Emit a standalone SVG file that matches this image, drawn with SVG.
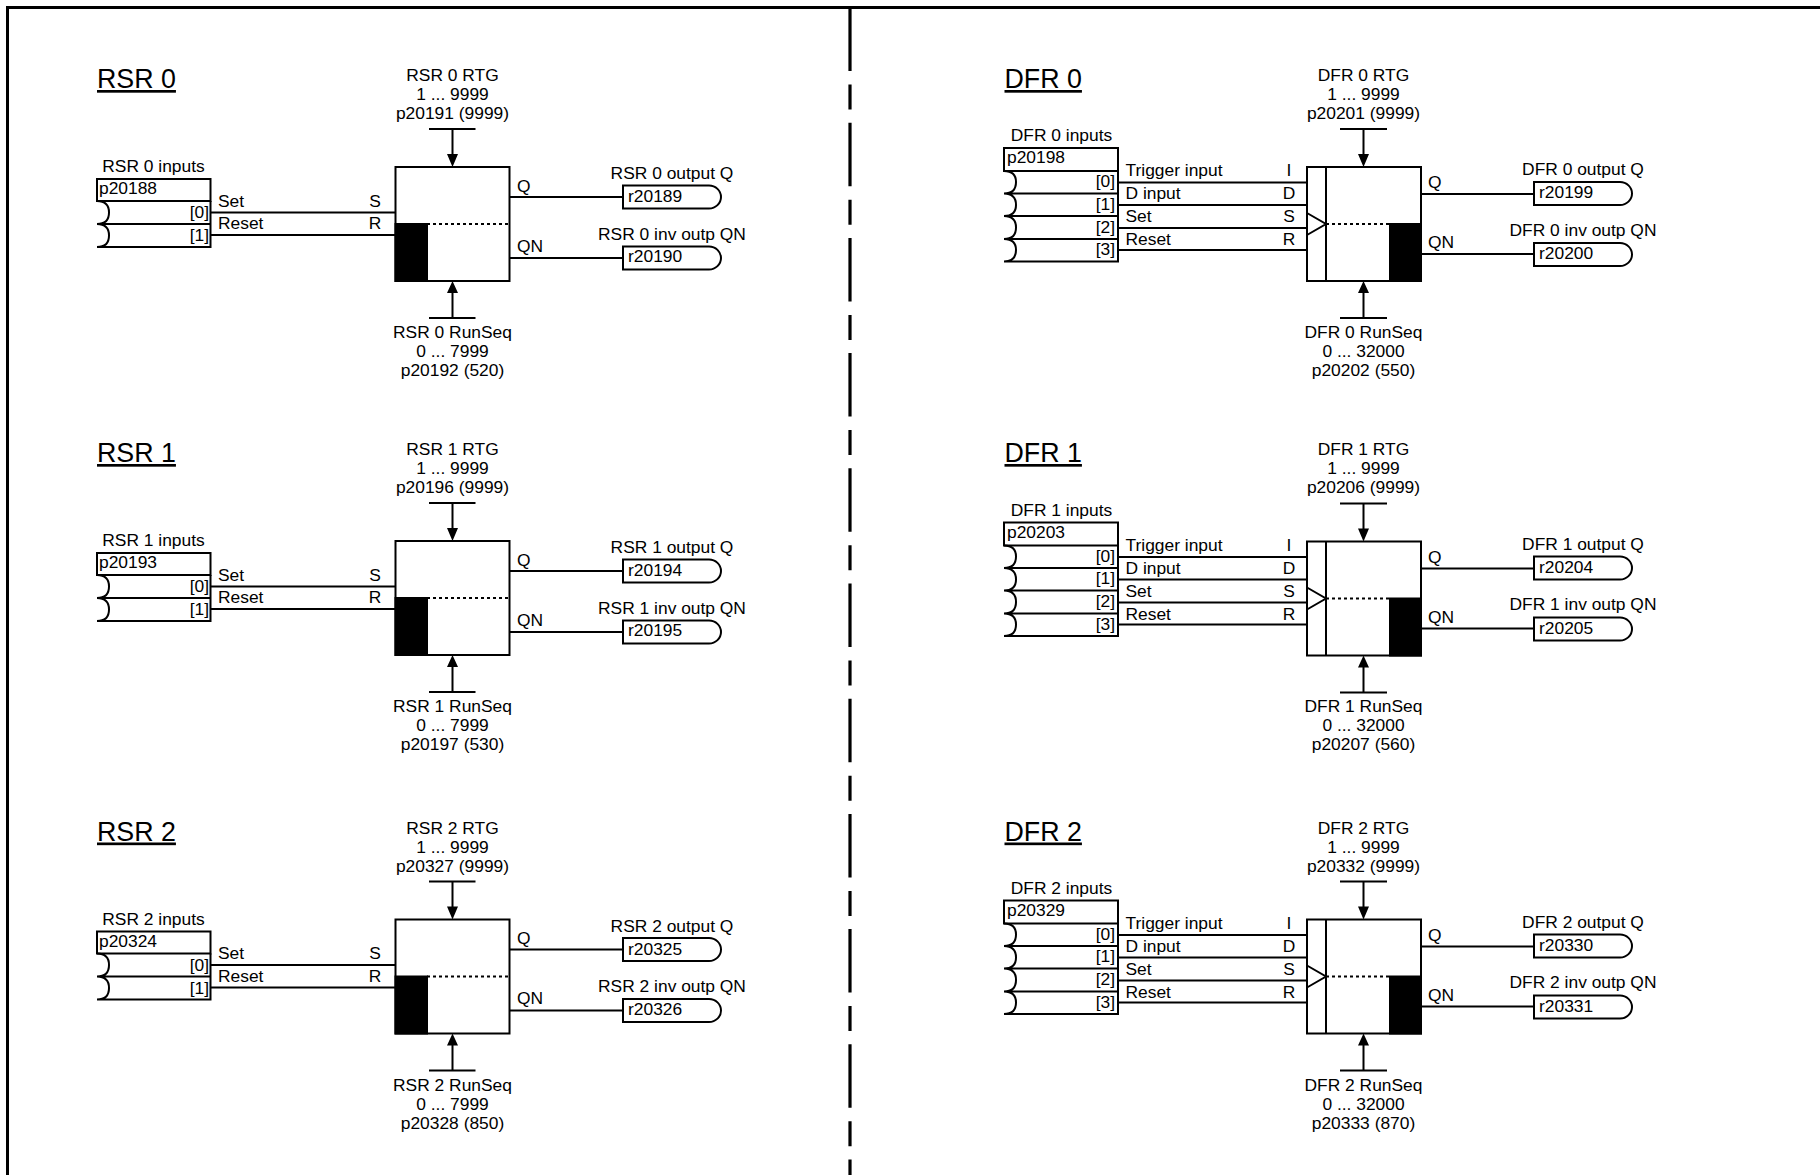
<svg xmlns="http://www.w3.org/2000/svg" width="1820" height="1175" viewBox="0 0 1820 1175">
<style>
text{font-family:"Liberation Sans",Arial,sans-serif;font-size:17.4px;fill:#000}
.m{text-anchor:middle}.e{text-anchor:end}
.t{font-size:26.8px;text-decoration:underline}
.l{fill:none;stroke:#000;stroke-width:2}
.b{fill:#fff;stroke:#000;stroke-width:2}
.k{fill:#000;stroke:#000;stroke-width:2}
.d{fill:none;stroke:#000;stroke-width:2;stroke-dasharray:3 3}
.a{fill:#000}
</style>
<defs>
<g id="rbox">
<rect class="b" x="395.500" y="167" width="114" height="114"/>
<rect class="k" x="395.500" y="224" width="31.500" height="57"/>
<path class="d" d="M427 224H509"/>
</g>
<g id="dbox">
<rect class="b" x="1307" y="167" width="114" height="114"/>
<path class="l" d="M1326 167V281M1307 213L1326 224L1307 235"/>
<rect class="k" x="1390" y="224" width="31" height="57"/>
<path class="d" d="M1326 224H1390"/>
</g>
<g id="rin">
<path class="b" d="M97 179H210.500V201H97Z"/>
<path class="l" d="M97 201Q109 201 109 212.500Q109 224 97 224Q109 224 109 235.500Q109 247 97 247H210.500V201M97 224H210.500"/>
</g>
<g id="din">
<path class="b" d="M1004 148H1118V171H1004Z"/>
<path class="l" d="M1004 171Q1016 171 1016 182Q1016 193.500 1004 193.500Q1016 193.500 1016 205Q1016 216 1004 216Q1016 216 1016 227.500Q1016 239 1004 239Q1016 239 1016 250Q1016 261.500 1004 261.500H1118V171M1004 193.500H1118M1004 216H1118M1004 239H1118"/>
</g>
<path id="out" class="b" d="M0 0H86A12 11.500 0 0 1 86 23H0Z"/>
<g id="rarrows">
<path class="l" d="M429 129H475.500M452.500 129V156M429 318H475.500M452.500 318V292"/>
<path class="a" d="M452.500 167L447 154H458ZM452.500 281L447 293H458Z"/>
</g>
<g id="darrows">
<path class="l" d="M1340 129H1387M1363.500 129V156M1340 318H1387M1363.500 318V292"/>
<path class="a" d="M1363.500 167L1358 154H1369ZM1363.500 281L1358 293H1369Z"/>
</g>
</defs>
<g id="frame"><path class="l" style="stroke-width:3" d="M7.500 1175V7.500H1820"/>
<path class="l" style="stroke-width:3.200;stroke-dasharray:63.500 13.500 25 13.200" d="M850 7.500V1175"/></g>

<g id="connectors">
<g id="c-r0"><use href="#rarrows"/><path class="l" d="M210 212.500H395M210 235H395M509 197H623M509 258H623"/></g>
<g id="c-r1" transform="translate(0,374)"><use href="#rarrows"/><path class="l" d="M210 212.500H395M210 235H395M509 197H623M509 258H623"/></g>
<g id="c-r2" transform="translate(0,752.500)"><use href="#rarrows"/><path class="l" d="M210 212.500H395M210 235H395M509 197H623M509 258H623"/></g>
<g id="c-d0"><use href="#darrows"/><path class="l" d="M1118 182.500H1307M1118 205H1307M1118 228H1307M1118 250H1307M1421 194H1534M1421 254H1534"/></g>
<g id="c-d1" transform="translate(0,374.500)"><use href="#darrows"/><path class="l" d="M1118 182.500H1307M1118 205H1307M1118 228H1307M1118 250H1307M1421 194H1534M1421 254H1534"/></g>
<g id="c-d2" transform="translate(0,752.500)"><use href="#darrows"/><path class="l" d="M1118 182.500H1307M1118 205H1307M1118 228H1307M1118 250H1307M1421 194H1534M1421 254H1534"/></g>
</g>

<g id="rsr0">
<use href="#rbox"/><use href="#rin"/><use href="#out" x="623" y="185.500"/><use href="#out" x="623" y="246.500"/>
<text class="t" x="97" y="88">RSR 0</text>
<text class="m" x="452.500" y="81">RSR 0 RTG</text><text class="m" x="452.500" y="100">1 ... 9999</text><text class="m" x="452.500" y="119">p20191 (9999)</text>
<text class="m" x="452.500" y="338">RSR 0 RunSeq</text><text class="m" x="452.500" y="357">0 ... 7999</text><text class="m" x="452.500" y="376">p20192 (520)</text>
<text class="m" x="153.500" y="172">RSR 0 inputs</text><text x="99" y="194">p20188</text>
<text class="e" x="209" y="218">[0]</text><text class="e" x="209" y="241">[1]</text>
<text x="218" y="206.500">Set</text><text x="218" y="229">Reset</text><text class="m" x="375" y="206.500">S</text><text class="m" x="375" y="229">R</text>
<text x="517" y="191.500">Q</text><text x="517" y="251.500">QN</text>
<text class="m" x="672" y="179">RSR 0 output Q</text><text x="628" y="202">r20189</text>
<text class="m" x="672" y="239.500">RSR 0 inv outp QN</text><text x="628" y="262">r20190</text>
</g>

<g id="rsr1" transform="translate(0,374)">
<use href="#rbox"/><use href="#rin"/><use href="#out" x="623" y="185.500"/><use href="#out" x="623" y="246.500"/>
<text class="t" x="97" y="88">RSR 1</text>
<text class="m" x="452.500" y="81">RSR 1 RTG</text><text class="m" x="452.500" y="100">1 ... 9999</text><text class="m" x="452.500" y="119">p20196 (9999)</text>
<text class="m" x="452.500" y="338">RSR 1 RunSeq</text><text class="m" x="452.500" y="357">0 ... 7999</text><text class="m" x="452.500" y="376">p20197 (530)</text>
<text class="m" x="153.500" y="172">RSR 1 inputs</text><text x="99" y="194">p20193</text>
<text class="e" x="209" y="218">[0]</text><text class="e" x="209" y="241">[1]</text>
<text x="218" y="206.500">Set</text><text x="218" y="229">Reset</text><text class="m" x="375" y="206.500">S</text><text class="m" x="375" y="229">R</text>
<text x="517" y="191.500">Q</text><text x="517" y="251.500">QN</text>
<text class="m" x="672" y="179">RSR 1 output Q</text><text x="628" y="202">r20194</text>
<text class="m" x="672" y="239.500">RSR 1 inv outp QN</text><text x="628" y="262">r20195</text>
</g>

<g id="rsr2" transform="translate(0,752.500)">
<use href="#rbox"/><use href="#rin"/><use href="#out" x="623" y="185.500"/><use href="#out" x="623" y="246.500"/>
<text class="t" x="97" y="88">RSR 2</text>
<text class="m" x="452.500" y="81.500">RSR 2 RTG</text><text class="m" x="452.500" y="100.500">1 ... 9999</text><text class="m" x="452.500" y="119.500">p20327 (9999)</text>
<text class="m" x="452.500" y="338.500">RSR 2 RunSeq</text><text class="m" x="452.500" y="357.500">0 ... 7999</text><text class="m" x="452.500" y="376.500">p20328 (850)</text>
<text class="m" x="153.500" y="172">RSR 2 inputs</text><text x="99" y="194">p20324</text>
<text class="e" x="209" y="218">[0]</text><text class="e" x="209" y="241">[1]</text>
<text x="218" y="206.500">Set</text><text x="218" y="229">Reset</text><text class="m" x="375" y="206.500">S</text><text class="m" x="375" y="229">R</text>
<text x="517" y="191.500">Q</text><text x="517" y="251.500">QN</text>
<text class="m" x="672" y="179">RSR 2 output Q</text><text x="628" y="202">r20325</text>
<text class="m" x="672" y="239.500">RSR 2 inv outp QN</text><text x="628" y="262">r20326</text>
</g>

<g id="dfr0">
<use href="#dbox"/><use href="#din"/><use href="#out" x="1534" y="182"/><use href="#out" x="1534" y="243"/>
<text class="t" x="1004.500" y="88">DFR 0</text>
<text class="m" x="1363.500" y="81">DFR 0 RTG</text><text class="m" x="1363.500" y="100">1 ... 9999</text><text class="m" x="1363.500" y="119">p20201 (9999)</text>
<text class="m" x="1363.500" y="338">DFR 0 RunSeq</text><text class="m" x="1363.500" y="357">0 ... 32000</text><text class="m" x="1363.500" y="376">p20202 (550)</text>
<text class="m" x="1061.500" y="141">DFR 0 inputs</text><text x="1007" y="163">p20198</text>
<text class="e" x="1115" y="187">[0]</text><text class="e" x="1115" y="209.500">[1]</text><text class="e" x="1115" y="232.500">[2]</text><text class="e" x="1115" y="255">[3]</text>
<text x="1125.500" y="176">Trigger input</text><text x="1125.500" y="199">D input</text><text x="1125.500" y="222">Set</text><text x="1125.500" y="245">Reset</text>
<text class="m" x="1289" y="176">I</text><text class="m" x="1289" y="199">D</text><text class="m" x="1289" y="222">S</text><text class="m" x="1289" y="245">R</text>
<text x="1428" y="188">Q</text><text x="1428" y="248">QN</text>
<text class="m" x="1583" y="175">DFR 0 output Q</text><text x="1539" y="198">r20199</text>
<text class="m" x="1583" y="235.500">DFR 0 inv outp QN</text><text x="1539" y="259">r20200</text>
</g>

<g id="dfr1" transform="translate(0,374.500)">
<use href="#dbox"/><use href="#din"/><use href="#out" x="1534" y="182"/><use href="#out" x="1534" y="243"/>
<text class="t" x="1004.500" y="87.500">DFR 1</text>
<text class="m" x="1363.500" y="80.500">DFR 1 RTG</text><text class="m" x="1363.500" y="99.500">1 ... 9999</text><text class="m" x="1363.500" y="118.500">p20206 (9999)</text>
<text class="m" x="1363.500" y="337.500">DFR 1 RunSeq</text><text class="m" x="1363.500" y="356.500">0 ... 32000</text><text class="m" x="1363.500" y="375.500">p20207 (560)</text>
<text class="m" x="1061.500" y="141.500">DFR 1 inputs</text><text x="1007" y="163.500">p20203</text>
<text class="e" x="1115" y="187">[0]</text><text class="e" x="1115" y="209.500">[1]</text><text class="e" x="1115" y="232.500">[2]</text><text class="e" x="1115" y="255">[3]</text>
<text x="1125.500" y="176">Trigger input</text><text x="1125.500" y="199">D input</text><text x="1125.500" y="222">Set</text><text x="1125.500" y="245">Reset</text>
<text class="m" x="1289" y="176">I</text><text class="m" x="1289" y="199">D</text><text class="m" x="1289" y="222">S</text><text class="m" x="1289" y="245">R</text>
<text x="1428" y="188">Q</text><text x="1428" y="248">QN</text>
<text class="m" x="1583" y="175">DFR 1 output Q</text><text x="1539" y="198">r20204</text>
<text class="m" x="1583" y="235.500">DFR 1 inv outp QN</text><text x="1539" y="259">r20205</text>
</g>

<g id="dfr2" transform="translate(0,752.500)">
<use href="#dbox"/><use href="#din"/><use href="#out" x="1534" y="182"/><use href="#out" x="1534" y="243"/>
<text class="t" x="1004.500" y="88">DFR 2</text>
<text class="m" x="1363.500" y="81.500">DFR 2 RTG</text><text class="m" x="1363.500" y="100.500">1 ... 9999</text><text class="m" x="1363.500" y="119.500">p20332 (9999)</text>
<text class="m" x="1363.500" y="338.500">DFR 2 RunSeq</text><text class="m" x="1363.500" y="357.500">0 ... 32000</text><text class="m" x="1363.500" y="376.500">p20333 (870)</text>
<text class="m" x="1061.500" y="141.500">DFR 2 inputs</text><text x="1007" y="163.500">p20329</text>
<text class="e" x="1115" y="187">[0]</text><text class="e" x="1115" y="209.500">[1]</text><text class="e" x="1115" y="232.500">[2]</text><text class="e" x="1115" y="255">[3]</text>
<text x="1125.500" y="176">Trigger input</text><text x="1125.500" y="199">D input</text><text x="1125.500" y="222">Set</text><text x="1125.500" y="245">Reset</text>
<text class="m" x="1289" y="176">I</text><text class="m" x="1289" y="199">D</text><text class="m" x="1289" y="222">S</text><text class="m" x="1289" y="245">R</text>
<text x="1428" y="188">Q</text><text x="1428" y="248">QN</text>
<text class="m" x="1583" y="175">DFR 2 output Q</text><text x="1539" y="198">r20330</text>
<text class="m" x="1583" y="235.500">DFR 2 inv outp QN</text><text x="1539" y="259">r20331</text>
</g>
</svg>
